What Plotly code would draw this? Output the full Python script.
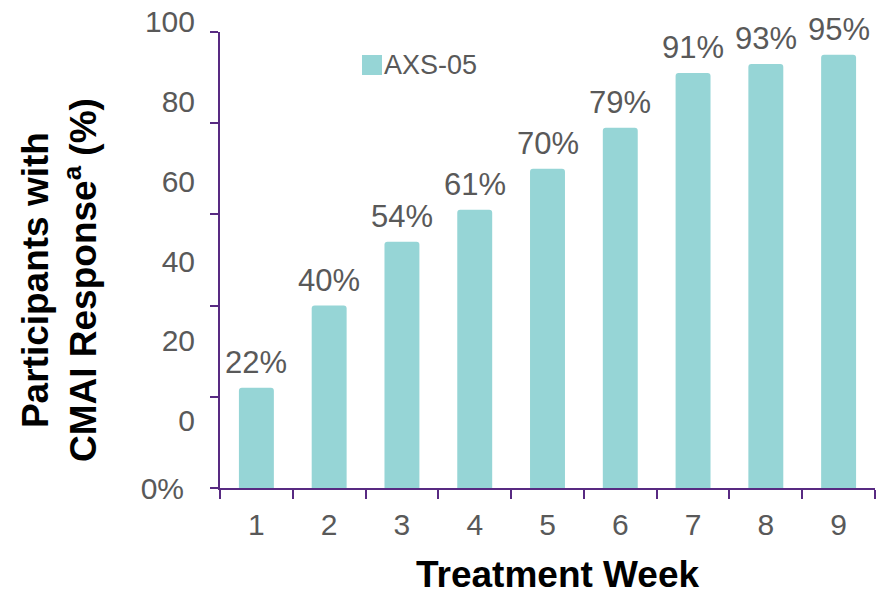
import plotly.graph_objects as go

weeks = ["1", "2", "3", "4", "5", "6", "7", "8", "9"]
response_pct = [22, 40, 54, 61, 70, 79, 91, 93, 95]
series_name = "AXS-05"
y_ticks = [0, 20, 40, 60, 80, 100]
label_ticks = [0, 20, 40, 60, 80, 100]
x_title = "Treatment Week"
y_title = "Participants with<br>CMAI Response<sup>a</sup> (%)"

BAR = "#96d5d6"
PURPLE = "#582a82"
GRAY = "#595959"
FONT = "Liberation Sans, Arial, sans-serif"

W, H = 877, 595
ML, MR, MT, MB = 220, 2, 0, 107
plot_h = H - MT - MB  # 488
main_top_px = 32
main_dom_top = (plot_h - main_top_px) / plot_h


def px_x(p):
    return (p - ML) / (W - ML - MR)


def px_y(p):
    return (plot_h - p) / plot_h


fig = go.Figure()
fig.add_trace(go.Bar(
    x=weeks, y=response_pct, name=series_name,
    marker=dict(color=BAR, cornerradius=3, line=dict(width=0)),
    cliponaxis=False, showlegend=False, hoverinfo="x+y",
))
# carrier for the (offset) printed value scale on the left
fig.add_trace(go.Scatter(x=[], y=[], yaxis="y2", showlegend=False, hoverinfo="skip"))

# scale for label axis: 0 at pixel 420.8, 100 at pixel 21.7
ppu = (420.8 - 21.7) / 100
r2 = [-(plot_h - 420.8) / ppu, 420.8 / ppu]

# category axis: annotation x is the category index
value_labels = [
    dict(text=f"{v}%", x=i, y=v, xref="x", yref="y", xanchor="center", yanchor="bottom",
         yshift=6, showarrow=False, font=dict(size=31, color=GRAY, family=FONT))
    for i, v in enumerate(response_pct)
]

fig.update_layout(
    width=W, height=H,
    margin=dict(l=ML, r=MR, t=MT, b=MB),
    paper_bgcolor="white", plot_bgcolor="rgba(0,0,0,0)",
    font=dict(family=FONT, color=GRAY),
    bargap=0.52,
    xaxis=dict(
        type="category", showline=True, linecolor=PURPLE, linewidth=2,
        ticks="outside", tickson="boundaries", ticklen=9, tickwidth=2, tickcolor=PURPLE,
        tickfont=dict(size=30, color=GRAY), showgrid=False, zeroline=False,
        ticklabelstandoff=9,
    ),
    yaxis=dict(
        domain=[0, main_dom_top], range=[0, 100],
        showline=True, linecolor=PURPLE, linewidth=2,
        ticks="outside", ticklen=8, tickwidth=2, tickcolor=PURPLE,
        tickvals=y_ticks[:1], ticktext=["0%"],
        minor=dict(tickvals=y_ticks[1:], ticks="outside", ticklen=8, tickwidth=2,
                   tickcolor=PURPLE, showgrid=False),
        tickfont=dict(size=30, color=GRAY), showgrid=False, zeroline=False,
        ticklabelstandoff=20,
    ),
    yaxis2=dict(
        domain=[0, 1], range=r2, anchor="free", position=0, side="left",
        showline=False, ticks="", tickvals=label_ticks,
        ticktext=[str(v) for v in label_ticks],
        tickfont=dict(size=30, color=GRAY), showgrid=False, zeroline=False,
        ticklabelstandoff=25,
    ),
    shapes=[dict(
        type="rect", xref="paper", yref="paper",
        x0=px_x(362), x1=px_x(382), y0=px_y(75), y1=px_y(55),
        fillcolor=BAR, line=dict(width=0),
    )],
    annotations=value_labels + [
        dict(text=series_name, xref="paper", yref="paper", x=px_x(382), y=px_y(65),
             xanchor="left", yanchor="middle", showarrow=False,
             font=dict(size=27, color=GRAY, family=FONT)),
        dict(text=f"<b>{x_title}</b>", xref="paper", yref="paper", x=px_x(558), y=px_y(574),
             xanchor="center", yanchor="middle", showarrow=False,
             font=dict(size=37, color="black", family=FONT)),
        dict(text=f"<b>{y_title}</b>", xref="paper", yref="paper", x=px_x(59), y=px_y(280),
             xanchor="center", yanchor="middle", showarrow=False, textangle=-90,
             font=dict(size=37, color="black", family=FONT)),
    ],
)

fig.write_html(
    "out.html",
    config={"displayModeBar": False},
    post_script="document.body.style.margin='0';document.body.style.padding='0';",
)
